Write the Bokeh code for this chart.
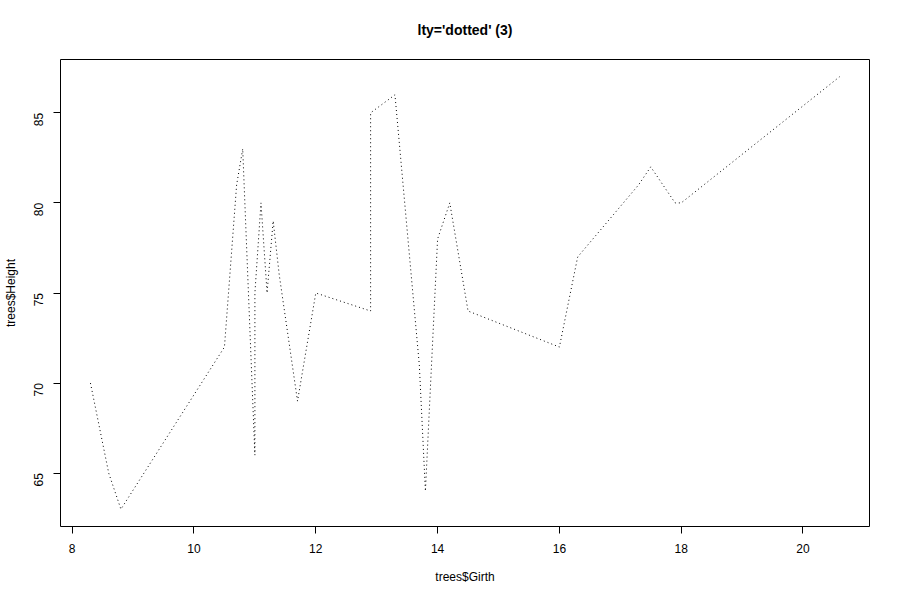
import math
from bokeh.plotting import figure
from bokeh.models import Range1d, FixedTicker, LinearAxis
from bokeh.embed import file_html
from bokeh.resources import INLINE

girth = [8.3, 8.6, 8.8, 10.5, 10.7, 10.8, 11.0, 11.0, 11.1, 11.2, 11.3, 11.4, 11.4,
         11.7, 12.0, 12.9, 12.9, 13.3, 13.7, 13.8, 14.0, 14.2, 14.5, 16.0, 16.3,
         17.3, 17.5, 17.9, 18.0, 18.0, 20.6]
height = [70, 65, 63, 72, 81, 83, 66, 75, 80, 75, 79, 76, 76, 69, 75, 74, 85, 86,
          71, 64, 78, 80, 74, 72, 77, 81, 82, 80, 80, 80, 87]
x_ticks = [8, 10, 12, 14, 16, 18, 20]
y_ticks = [65, 70, 75, 80, 85]
title_text = "lty='dotted' (3)"
x_label = "trees$Girth"
y_label = "trees$Height"

def padded(vals):
    lo, hi = min(vals), max(vals)
    d = (hi - lo) * 0.04
    return lo - d, hi + d

FONT = "Liberation Sans"

xr = padded(girth)
yr = padded(height)

p = figure(width=900, height=600, output_backend="svg", toolbar_location=None,
           x_range=Range1d(*xr), y_range=Range1d(*yr),
           min_border_left=59, min_border_right=31, min_border_top=59, min_border_bottom=74)

p.line(girth, height, line_color="black", line_width=1, line_dash="1 3")

p.grid.visible = False
p.outline_line_color = "black"
p.outline_line_width = 1
p.background_fill_color = "white"
p.border_fill_color = "white"

for ax, ticks, bounds in ((p.xaxis[0], x_ticks, (8, 20)), (p.yaxis[0], y_ticks, (65, 85))):
    ax.ticker = FixedTicker(ticks=ticks)
    ax.bounds = bounds
    ax.axis_line_color = "black"
    ax.major_tick_line_color = "black"
    ax.major_tick_out = 7
    ax.major_tick_in = 0
    ax.minor_tick_out = 0
    ax.minor_tick_in = 0
    ax.major_label_text_font = FONT
    ax.major_label_text_font_size = "12px"
    ax.major_label_text_color = "black"
    ax.axis_label_text_font = FONT
    ax.axis_label_text_font_size = "12px"
    ax.axis_label_text_font_style = "normal"
    ax.axis_label_text_color = "black"

p.xaxis.axis_label = x_label
p.xaxis.major_label_standoff = 10
p.xaxis.axis_label_standoff = 14
p.yaxis.axis_label = y_label
p.yaxis.major_label_orientation = math.pi / 2
p.yaxis.major_label_standoff = 15
p.yaxis.axis_label_standoff = 9

# main title drawn as the label of an otherwise empty axis above the frame
title_axis = LinearAxis(ticker=FixedTicker(ticks=[]), axis_line_color=None,
                        major_tick_out=0, major_tick_in=0, minor_tick_out=0, minor_tick_in=0,
                        major_label_standoff=0,
                        axis_label=title_text, axis_label_standoff=22,
                        axis_label_text_font=FONT, axis_label_text_font_size="14px",
                        axis_label_text_font_style="bold", axis_label_text_color="black")
p.add_layout(title_axis, "above")

open("out.html", "w").write(file_html(p, INLINE))
